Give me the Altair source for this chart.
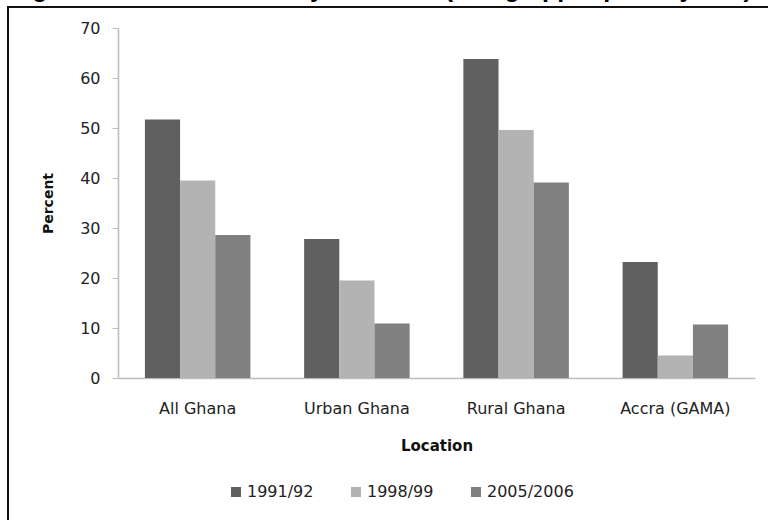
import altair as alt
import pandas as pd

# Poverty headcount (%) by location and survey round
locations = ["All Ghana", "Urban Ghana", "Rural Ghana", "Accra (GAMA)"]
rounds = ["1991/92", "1998/99", "2005/2006"]
values_1991 = [51.7, 27.8, 63.8, 23.2]
values_1998 = [39.5, 19.5, 49.6, 4.5]
values_2005 = [28.6, 10.9, 39.1, 10.7]
round_colors = ["#606060", "#b3b3b3", "#808080"]

title_text = "Figure 1 Trends in Poverty in Ghana (using upper poverty line)"

rows = []
for r, vals in zip(rounds, [values_1991, values_1998, values_2005]):
    for loc, v in zip(locations, vals):
        rows.append({"Location": loc, "Round": r, "Percent": v})
df = pd.DataFrame(rows)

LABEL_FONT = "DejaVu Sans"
W, H = 637, 350

bars = alt.Chart(df).mark_bar().encode(
    x=alt.X(
        "Location:N",
        sort=locations,
        scale=alt.Scale(paddingInner=0.3375, paddingOuter=0.169),
        axis=alt.Axis(
            title="Location",
            labelAngle=0,
            ticks=False,
            labelPadding=22,
            labelFont=LABEL_FONT,
            labelFontSize=16,
            labelColor="#222222",
            titleFont=LABEL_FONT,
            titleFontSize=15,
            titleFontWeight="bold",
            titleColor="#111111",
            titleY=67,
            titleBaseline="middle",
            domainColor="#bdbdbd",
            domainWidth=1.5,
        ),
    ),
    xOffset=alt.XOffset("Round:N", sort=rounds, scale=alt.Scale(paddingInner=0, paddingOuter=0)),
    y=alt.Y(
        "Percent:Q",
        scale=alt.Scale(domain=[0, 70], nice=False),
        axis=alt.Axis(
            title="Percent",
            values=[0, 10, 20, 30, 40, 50, 60, 70],
            grid=False,
            tickSize=6,
            tickColor="#bdbdbd",
            domainColor="#bdbdbd",
            domainWidth=1.5,
            labelPadding=12,
            labelFont=LABEL_FONT,
            labelFontSize=16,
            labelColor="#222222",
            titleFont=LABEL_FONT,
            titleFontSize=14,
            titleFontWeight="bold",
            titleColor="#111111",
            titleX=-63,
            titleY=175,
        ),
    ),
    color=alt.Color(
        "Round:N",
        sort=rounds,
        scale=alt.Scale(domain=rounds, range=round_colors),
        legend=alt.Legend(
            title=None,
            orient="none",
            direction="horizontal",
            legendX=110,
            legendY=456,
            symbolType="square",
            symbolSize=100,
            symbolStrokeWidth=0,
            symbolOffset=0,
            labelFont=LABEL_FONT,
            labelFontSize=16,
            labelColor="#222222",
            labelOffset=3,
            columnPadding=34,
        ),
    ),
)

frame_src = pd.DataFrame({"k": [0]})

# outer frame: left and top border lines
left_edge = alt.Chart(frame_src).mark_rule(color="#111111", strokeWidth=2).encode(
    x=alt.value(-110), y=alt.value(-21), y2=alt.value(H + 142)
)
top_edge = alt.Chart(frame_src).mark_rule(color="#111111", strokeWidth=2).encode(
    x=alt.value(-111), x2=alt.value(W + 13), y=alt.value(-21)
)

title = alt.Chart(frame_src).mark_text(
    text=title_text,
    font="Liberation Sans",
    fontSize=25,
    fontWeight="bold",
    color="#000000",
    align="left",
    baseline="alphabetic",
).encode(x=alt.value(-108), y=alt.value(-31))

chart = alt.layer(bars, left_edge, top_edge, title).properties(
    width=W,
    height=H,
    padding={"left": 118, "top": 28, "right": 13, "bottom": 142},
    autosize=alt.AutoSizeParams(type="none"),
    background="white",
).configure_view(stroke=None)

chart.save("out.html", embed_options={"renderer": "svg", "actions": False})
